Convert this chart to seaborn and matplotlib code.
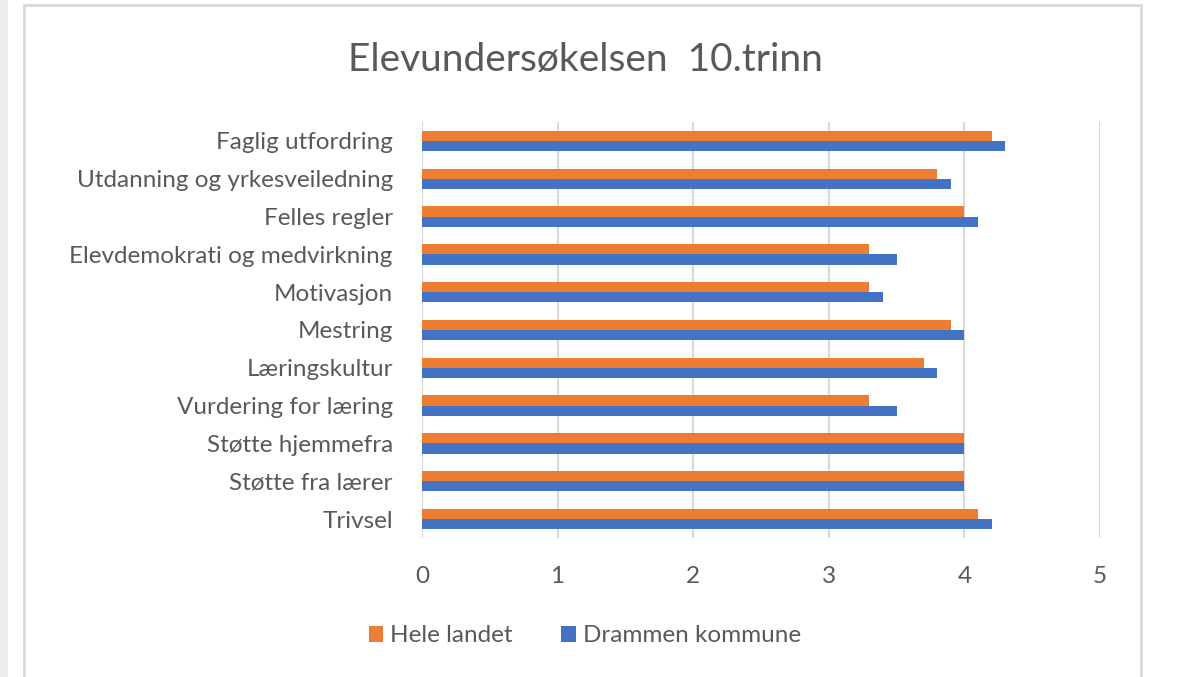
import matplotlib
matplotlib.use('Agg')
import matplotlib.pyplot as plt
import seaborn as sns
import pandas as pd
from matplotlib.patches import Rectangle

categories = ['Faglig utfordring', 'Utdanning og yrkesveiledning', 'Felles regler',
              'Elevdemokrati og medvirkning', 'Motivasjon', 'Mestring', 'Læringskultur',
              'Vurdering for læring', 'Støtte hjemmefra', 'Støtte fra lærer', 'Trivsel']
hele_landet = [4.2, 3.8, 4.0, 3.3, 3.3, 3.9, 3.7, 3.3, 4.0, 4.0, 4.1]
drammen = [4.3, 3.9, 4.1, 3.5, 3.4, 4.0, 3.8, 3.5, 4.0, 4.0, 4.2]
series = ['Hele landet', 'Drammen kommune']
colors = {'Hele landet': '#ED7D31', 'Drammen kommune': '#4472C4'}

df = pd.DataFrame({
    'kategori': categories * 2,
    'verdi': hele_landet + drammen,
    'serie': [series[0]] * len(categories) + [series[1]] * len(categories),
})

sns.set_style('white')
plt.rcParams['font.family'] = ['Lato', 'DejaVu Sans']
text_color = '#595959'

fig = plt.figure(figsize=(11.81, 6.77), dpi=100)
ax = fig.add_axes([422 / 1181, 1 - 538 / 677, (1100 - 422) / 1181, (538 - 122) / 677])

# chart frame like the office chart area
fig.patches.append(Rectangle((24 / 1181, -0.01), (1141 - 24) / 1181, 1 - 5 / 677 + 0.01,
                             transform=fig.transFigure, fill=False, edgecolor='#d9d9d9', lw=2))
fig.patches.append(Rectangle((0, 0), 8 / 1181, 1, transform=fig.transFigure,
                             facecolor='#eeeeee', edgecolor='none'))

sns.barplot(data=df, y='kategori', x='verdi', hue='serie', order=categories, hue_order=series,
            palette=colors, orient='h', width=0.54, saturation=1, linewidth=0, ax=ax, legend=True)

ax.set_xlim(0, 5)
ax.set_xticks(range(6))
ax.grid(axis='x', color='#d9d9d9', lw=1.5)
ax.set_axisbelow(True)
for s in ax.spines.values():
    s.set_visible(False)
ax.set_xlabel('')
ax.set_ylabel('')
ax.tick_params(axis='both', length=0, colors=text_color, labelsize=17.5)
ax.tick_params(axis='x', pad=20)
ax.tick_params(axis='y', pad=21)

fig.text(585 / 1181, 1 - 60 / 677, 'Elevundersøkelsen  10.trinn', ha='center', va='center',
         fontsize=28, color=text_color)

handles, labels = ax.get_legend_handles_labels()
ax.legend(handles, labels, loc='center', bbox_to_anchor=(585 / 1181, 1 - 636 / 677),
          bbox_transform=fig.transFigure, ncol=2, frameon=False, fontsize=17.5,
          handlelength=0.6, handleheight=0.6, handletextpad=0.3, columnspacing=2.0,
          labelcolor=text_color)

fig.savefig('out.png', dpi=100)
